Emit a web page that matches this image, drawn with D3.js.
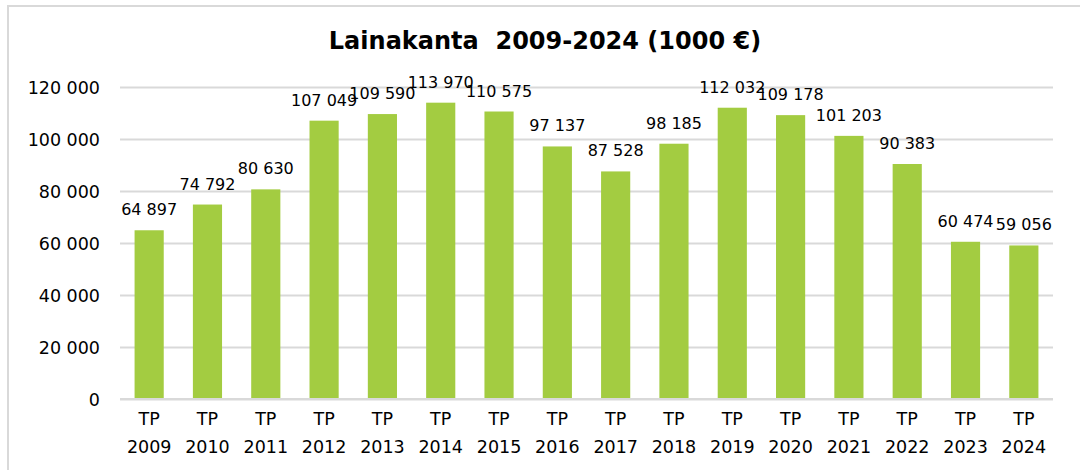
<!DOCTYPE html>
<html>
<head>
<meta charset="utf-8">
<script src="https://cdn.jsdelivr.net/npm/d3@7"></script>
<style>
  body { margin: 0; background: #fff; }
  svg { display: block; font-family: "DejaVu Sans", Verdana, sans-serif; }
</style>
</head>
<body>
<div id="chart"></div>
<script>
// Lainakanta, tilinpäätökset 2009-2024 (1000 €)
var years = ['2009', '2010', '2011', '2012', '2013', '2014', '2015', '2016',
             '2017', '2018', '2019', '2020', '2021', '2022', '2023', '2024'];
var loans = [64897, 74792, 80630, 107049, 109590, 113970, 110575, 97137,
             87528, 98185, 112032, 109178, 101203, 90383, 60474, 59056];
var yTicks = [0, 20000, 40000, 60000, 80000, 100000, 120000];

var _width = 1080,
    _height = 470,
    _margin = {top: 87, right: 27, bottom: 71, left: 120},
    _bar = '#a3cc41',
    _grid = '#d9d9d9';

var fmt = function (v) {
    return d3.format(',')(v).replace(/,/g, ' ');
};

var svg = d3.select('#chart').append('svg')
    .attr('width', _width)
    .attr('height', _height);

// chart frame (cut off at right/bottom like the screenshot)
svg.append('path')
    .attr('d', 'M8,' + _height + 'V6H' + _width)
    .attr('fill', 'none')
    .attr('stroke', _grid)
    .attr('stroke-width', 2);

var x = d3.scaleBand()
    .domain(years)
    .range([_margin.left, _width - _margin.right])
    .paddingInner(0.5)
    .paddingOuter(0.25);

var y = d3.scaleLinear()
    .domain([0, 120000])
    .range([_height - _margin.bottom, _margin.top]);

svg.append('text')
    .attr('x', 545)
    .attr('y', 49)
    .attr('text-anchor', 'middle')
    .attr('font-size', '24px')
    .attr('font-weight', 'bold')
    .attr('fill', '#000')
    .style('white-space', 'pre')
    .text('Lainakanta  2009-2024 (1000 €)');

// grid + y labels
var yAxis = svg.append('g')
    .attr('transform', 'translate(' + _margin.left + ',0)')
    .call(d3.axisLeft(y)
        .tickValues(yTicks)
        .tickSize(-(_width - _margin.left - _margin.right))
        .tickPadding(20)
        .tickFormat(fmt))
    .attr('font-family', null)
    .attr('font-size', null);

yAxis.select('.domain').remove();
yAxis.selectAll('.tick line')
    .attr('stroke', _grid)
    .attr('stroke-width', 2);
yAxis.selectAll('.tick text')
    .attr('font-size', '17.5px')
    .attr('fill', '#000')
    .attr('dy', '0.36em');

// bars
svg.append('g').selectAll('rect')
    .data(loans)
    .enter()
    .append('rect')
    .attr('x', function (d, i) { return x(years[i]); })
    .attr('y', function (d) { return y(d); })
    .attr('width', x.bandwidth())
    .attr('height', function (d) { return y(0) - y(d); })
    .attr('fill', _bar);

// baseline drawn again over the bars
svg.append('line')
    .attr('x1', _margin.left)
    .attr('x2', _width - _margin.right)
    .attr('y1', y(0))
    .attr('y2', y(0))
    .attr('stroke', _grid)
    .attr('stroke-width', 2);

// value labels
svg.append('g').selectAll('text')
    .data(loans)
    .enter()
    .append('text')
    .attr('x', function (d, i) { return x(years[i]) + x.bandwidth() / 2; })
    .attr('y', function (d) { return y(d) - 15; })
    .attr('text-anchor', 'middle')
    .attr('font-size', '16px')
    .attr('fill', '#000')
    .text(fmt);

// category labels, two lines
var xLab = svg.append('g').selectAll('text')
    .data(years)
    .enter()
    .append('text')
    .attr('text-anchor', 'middle')
    .attr('font-size', '17.5px')
    .attr('fill', '#000');

xLab.append('tspan')
    .attr('x', function (d) { return x(d) + x.bandwidth() / 2; })
    .attr('y', 425)
    .text('TP');
xLab.append('tspan')
    .attr('x', function (d) { return x(d) + x.bandwidth() / 2; })
    .attr('y', 453)
    .text(function (d) { return d; });
</script>
</body>
</html>
